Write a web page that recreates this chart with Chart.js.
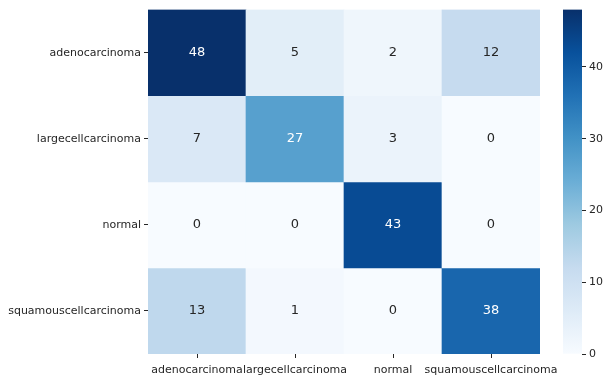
<!DOCTYPE html>
<html lang="en">
<head>
	<meta charset="utf-8">
	<title></title>
	<style>
html, body { margin: 0; padding: 0; background: #fff; }
#wrap { position: relative; width: 603px; height: 376px; }
#wrap canvas { position: absolute; left: 0; top: 0; }
	</style>
</head>
<body>
<div id="wrap">
  <canvas id="matrix" width="603" height="376"></canvas>
  <canvas id="cbar" width="603" height="376"></canvas>
</div>

<script src="https://cdn.jsdelivr.net/npm/chart.js"></script>
<script>
const predLabels = ['adenocarcinoma', 'largecellcarcinoma', 'normal', 'squamouscellcarcinoma'];
const trueLabels = ['adenocarcinoma', 'largecellcarcinoma', 'normal', 'squamouscellcarcinoma'];
const adenocarcinoma = [48, 5, 2, 12];
const largecellcarcinoma = [7, 27, 3, 0];
const normal = [0, 0, 43, 0];
const squamouscellcarcinoma = [13, 1, 0, 38];
const colorbarTicks = [0, 10, 20, 30, 40];
const vmin = 0, vmax = 48;

const rows = [adenocarcinoma, largecellcarcinoma, normal, squamouscellcarcinoma];

// matplotlib "Blues"
const blues = ['#f7fbff', '#deebf7', '#c6dbef', '#9ecae1', '#6baed6', '#4292c6', '#2171b5', '#08519c', '#08306b'];

function hexRgb(h) {
	return [parseInt(h.slice(1, 3), 16), parseInt(h.slice(3, 5), 16), parseInt(h.slice(5, 7), 16)];
}
function bluesRgb(v) {
	let t = Math.max(0, Math.min(1, (v - vmin) / (vmax - vmin))) * (blues.length - 1);
	let i = Math.min(Math.floor(t), blues.length - 2);
	let f = t - i;
	let a = hexRgb(blues[i]), b = hexRgb(blues[i + 1]);
	return a.map((c, k) => Math.round(c + (b[k] - c) * f));
}
function rgbStr(c) { return `rgb(${c[0]},${c[1]},${c[2]})`; }
function textColor(c) {
	let lin = c.map(x => { x /= 255; return x <= 0.03928 ? x / 12.92 : Math.pow((x + 0.055) / 1.055, 2.4); });
	let lum = 0.2126 * lin[0] + 0.7152 * lin[1] + 0.0722 * lin[2];
	return lum > 0.408 ? '#262626' : '#ffffff';
}

Chart.defaults.font.family = 'DejaVu Sans';
Chart.defaults.font.size = 11;
Chart.defaults.color = '#262626';
Chart.defaults.animation = false;

const cellText = {
	id: 'cellText',
	afterDatasetsDraw(chart) {
		const ctx = chart.ctx;
		ctx.save();
		ctx.font = '13px "DejaVu Sans"';
		ctx.textAlign = 'center';
		ctx.textBaseline = 'middle';
		chart.data.datasets.forEach((ds, r) => {
			chart.getDatasetMeta(r).data.forEach((bar, c) => {
				let v = rows[r][c];
				ctx.fillStyle = textColor(bluesRgb(v));
				let p = bar.getProps(['x', 'y', 'base']);
				ctx.fillText(String(v), p.x, (p.y + p.base) / 2);
			});
		});
		ctx.restore();
	}
};

new Chart(document.getElementById('matrix'), {
	type: 'bar',
	data: {
		labels: predLabels,
		datasets: rows.map((vals, r) => ({
			label: trueLabels[r],
			data: vals.map(() => [r, r + 1]),
			backgroundColor: vals.map(v => rgbStr(bluesRgb(v))),
			borderWidth: 0,
			barPercentage: 1,
			categoryPercentage: 1,
			grouped: false
		}))
	},
	options: {
		responsive: false,
		layout: { padding: { left: 0, right: 63, top: 8, bottom: 0 } },
		plugins: { legend: { display: false }, tooltip: { enabled: false } },
		scales: {
			x: {
				grid: { display: false, drawTicks: true },
				border: { display: false },
				ticks: { maxRotation: 0, autoSkip: false, padding: 2 },
				afterFit(s) { s.height = 22; }
			},
			y: {
				min: 0, max: 4, reverse: true,
				grid: { drawOnChartArea: false, drawTicks: true, tickLength: 4, color: '#262626' },
				border: { display: false },
				afterBuildTicks(s) { s.ticks = trueLabels.map((_, i) => ({ value: i + 0.5 })); },
				ticks: { callback: (v, i) => trueLabels[i], padding: 3 },
				afterFit(s) { s.width = 148; }
			}
		}
	},
	plugins: [cellText, {
		id: 'xTickMarks',
		afterDraw(chart) {
			const ctx = chart.ctx, xs = chart.scales.x, b = chart.chartArea.bottom;
			ctx.save();
			ctx.strokeStyle = '#262626';
			ctx.lineWidth = 1;
			predLabels.forEach((_, i) => {
				let x = Math.round(xs.getPixelForTick(i)) + 0.5;
				ctx.beginPath(); ctx.moveTo(x, b); ctx.lineTo(x, b + 4); ctx.stroke();
			});
			ctx.restore();
		}
	}]
});

new Chart(document.getElementById('cbar'), {
	type: 'bar',
	data: {
		labels: [''],
		datasets: [{
			data: [[vmin, vmax]],
			borderWidth: 0,
			barPercentage: 1,
			categoryPercentage: 1,
			backgroundColor(c) {
				const a = c.chart.chartArea;
				if (!a) return blues[4];
				const g = c.chart.ctx.createLinearGradient(0, a.bottom, 0, a.top);
				blues.forEach((col, i) => g.addColorStop(i / (blues.length - 1), col));
				return g;
			}
		}]
	},
	options: {
		responsive: false,
		layout: { padding: { left: 563, right: 0, top: 8, bottom: 22 } },
		plugins: { legend: { display: false }, tooltip: { enabled: false } },
		scales: {
			x: { display: false },
			y: {
				position: 'right',
				min: vmin, max: vmax,
				grid: { drawOnChartArea: false, drawTicks: true, tickLength: 4, color: '#262626' },
				border: { display: false },
				afterBuildTicks(s) { s.ticks = colorbarTicks.map(v => ({ value: v })); },
				ticks: { padding: 3 },
				afterFit(s) { s.width = 21; }
			}
		}
	}
});
</script>
</body>
</html>
